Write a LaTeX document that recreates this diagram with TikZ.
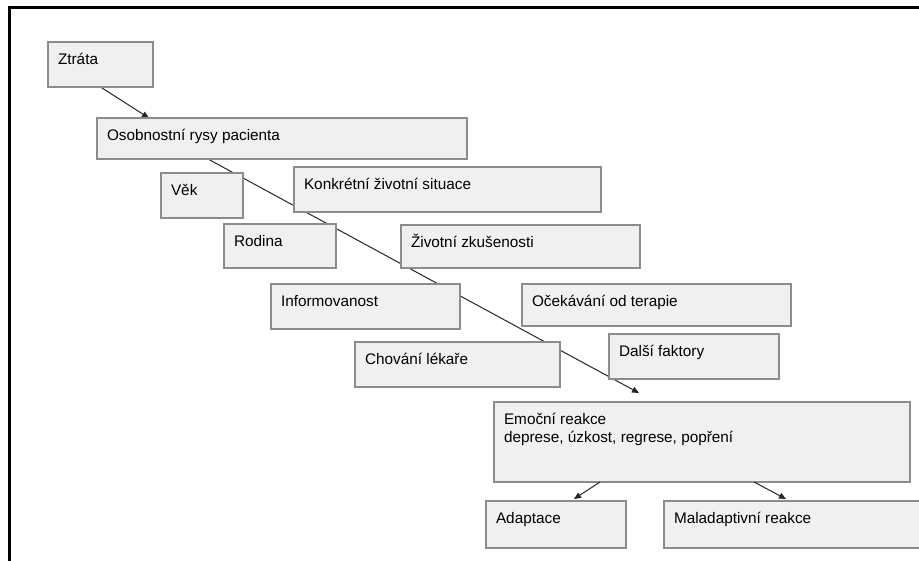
\documentclass[tikz,border=0pt]{standalone}
\usepackage{fontspec}
\setmainfont{Liberation Sans}
\usetikzlibrary{arrows.meta,backgrounds}
\newlength{\pix}\setlength{\pix}{0.75pt}
\tikzset{>={Triangle[length=5.25pt,width=4.5pt]}}
\definecolor{boxfill}{HTML}{F0F0F0}
\definecolor{boxline}{HTML}{8C8C8C}

\begin{document}
\begin{tikzpicture}[x=\pix, y=-\pix, font=\fontsize{11.5}{13.5}\selectfont,
  box/.style={draw=boxline, fill=boxfill, line width=1.5\pix, anchor=north west, inner sep=0pt, outer sep=0pt},
  txt/.style={anchor=north west, inner xsep=10\pix, inner ysep=11.5\pix, outer sep=0pt, text height=11\pix, align=left},
  conn/.style={->, line width=1\pix, draw=black!85}]
\useasboundingbox (0,0) rectangle (919,560);
\draw[line width=3\pix] (9,590) |- (950,7.5);

\node[box, minimum width=105\pix, minimum height=45\pix, label={[txt]north west:Ztráta}] (ztrata) at (48,42) {};
\node[box, minimum width=370\pix, minimum height=41\pix, label={[txt]north west:Osobnostní rysy pacienta}] (osob) at (97,118) {};
\node[box, minimum width=82\pix, minimum height=45\pix, label={[txt]north west:Věk}] (vek) at (161,173) {};
\node[box, minimum width=307\pix, minimum height=45\pix, label={[txt]north west:Konkrétní životní situace}] (situace) at (294,167) {};
\node[box, minimum width=112\pix, minimum height=44\pix, label={[txt]north west:Rodina}] (rodina) at (224,224) {};
\node[box, minimum width=239\pix, minimum height=43\pix, label={[txt]north west:Životní zkušenosti}] (zkusenosti) at (401,225) {};
\node[box, minimum width=189\pix, minimum height=45\pix, label={[txt]north west:Informovanost}] (info) at (271,284) {};
\node[box, minimum width=269\pix, minimum height=42\pix, label={[txt]north west:Očekávání od terapie}] (terapie) at (522,284) {};
\node[box, minimum width=205\pix, minimum height=45\pix, label={[txt]north west:Chování lékaře}] (lekar) at (355,342) {};
\node[box, minimum width=170\pix, minimum height=45\pix, label={[txt]north west:Další faktory}] (dalsi) at (609,334) {};
\node[box, minimum width=416\pix, minimum height=80\pix, label={[txt, text height=29\pix]north west:{Emoční reakce\\deprese, úzkost, regrese, popření}}] (emoce) at (494,402) {};
\node[box, minimum width=140\pix, minimum height=47\pix, label={[txt]north west:Adaptace}] (adapt) at (486,501) {};
\node[box, minimum width=270\pix, minimum height=47\pix, label={[txt]north west:Maladaptivní reakce}] (malad) at (664,501) {};

\begin{scope}[on background layer]
\draw[conn] (ztrata.south) -- ([xshift=52\pix]osob.north west);
\draw[conn] ([xshift=111\pix]osob.south west) -- ([xshift=145\pix,yshift=9\pix]emoce.north west);
\end{scope}
\draw[conn] ([xshift=106\pix]emoce.south west) -- ([xshift=88\pix,yshift=2\pix]adapt.north west);
\draw[conn] ([xshift=260\pix]emoce.south west) -- ([xshift=122\pix,yshift=2\pix]malad.north west);
\end{tikzpicture}
\end{document}
